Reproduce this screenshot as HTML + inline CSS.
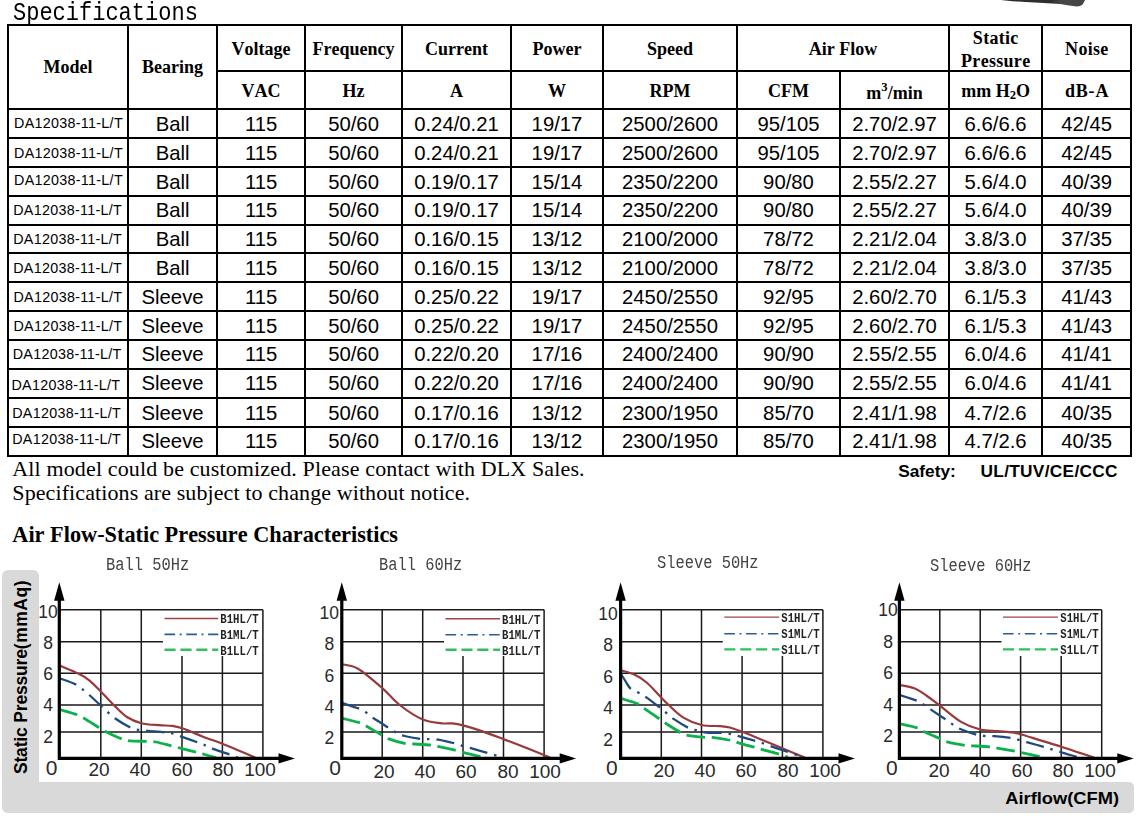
<!DOCTYPE html>
<html><head><meta charset="utf-8"><title>Specifications</title>
<style>
html,body{margin:0;padding:0;background:#fff}
body{width:1140px;height:819px;position:relative;overflow:hidden}
.t{position:absolute;white-space:nowrap;line-height:0;color:#000}
.a{font-family:"Liberation Sans",sans-serif}
.s{font-family:"Liberation Serif",serif}
.m{font-family:"Liberation Mono",monospace}
.b{font-weight:bold}
.s.b{font-kerning:none}
.l{position:absolute}
sup,sub{font-size:70%;line-height:0}
sup{vertical-align:baseline;position:relative;top:-0.68em}
sub{vertical-align:baseline;position:relative;top:0.16em}
svg{position:absolute;left:0;top:0}
</style></head><body>
<div class="t m" style="left:13.00px;top:13.58px;font-size:22px;transform-origin:0 50%;transform:scale(1.0,1.18);">Specifications</div>
<div class="l" style="left:6.97px;top:23.98px;width:1125.25px;height:2.05px;background:#000"></div>
<div class="l" style="left:6.97px;top:454.68px;width:1125.25px;height:2.05px;background:#000"></div>
<div class="l" style="left:8.00px;top:107.92px;width:1123.20px;height:2.05px;background:#000"></div>
<div class="l" style="left:217.00px;top:70.02px;width:914.20px;height:2.05px;background:#000"></div>
<div class="l" style="left:8.00px;top:136.82px;width:1123.20px;height:2.05px;background:#000"></div>
<div class="l" style="left:8.00px;top:165.72px;width:1123.20px;height:2.05px;background:#000"></div>
<div class="l" style="left:8.00px;top:194.61px;width:1123.20px;height:2.05px;background:#000"></div>
<div class="l" style="left:8.00px;top:223.51px;width:1123.20px;height:2.05px;background:#000"></div>
<div class="l" style="left:8.00px;top:252.40px;width:1123.20px;height:2.05px;background:#000"></div>
<div class="l" style="left:8.00px;top:281.30px;width:1123.20px;height:2.05px;background:#000"></div>
<div class="l" style="left:8.00px;top:310.20px;width:1123.20px;height:2.05px;background:#000"></div>
<div class="l" style="left:8.00px;top:339.09px;width:1123.20px;height:2.05px;background:#000"></div>
<div class="l" style="left:8.00px;top:367.99px;width:1123.20px;height:2.05px;background:#000"></div>
<div class="l" style="left:8.00px;top:396.88px;width:1123.20px;height:2.05px;background:#000"></div>
<div class="l" style="left:8.00px;top:425.78px;width:1123.20px;height:2.05px;background:#000"></div>
<div class="l" style="left:6.97px;top:25.00px;width:2.05px;height:430.70px;background:#000"></div>
<div class="l" style="left:127.07px;top:25.00px;width:2.05px;height:430.70px;background:#000"></div>
<div class="l" style="left:215.97px;top:25.00px;width:2.05px;height:430.70px;background:#000"></div>
<div class="l" style="left:304.08px;top:25.00px;width:2.05px;height:430.70px;background:#000"></div>
<div class="l" style="left:400.98px;top:25.00px;width:2.05px;height:430.70px;background:#000"></div>
<div class="l" style="left:509.98px;top:25.00px;width:2.05px;height:430.70px;background:#000"></div>
<div class="l" style="left:601.98px;top:25.00px;width:2.05px;height:430.70px;background:#000"></div>
<div class="l" style="left:735.98px;top:25.00px;width:2.05px;height:430.70px;background:#000"></div>
<div class="l" style="left:838.98px;top:71.05px;width:2.05px;height:384.65px;background:#000"></div>
<div class="l" style="left:947.98px;top:25.00px;width:2.05px;height:430.70px;background:#000"></div>
<div class="l" style="left:1041.17px;top:25.00px;width:2.05px;height:430.70px;background:#000"></div>
<div class="l" style="left:1130.17px;top:25.00px;width:2.05px;height:430.70px;background:#000"></div>
<div class="t s b" style="left:68.05px;top:67.22px;font-size:18px;transform:translateX(-50%);">Model</div>
<div class="t s b" style="left:172.55px;top:67.22px;font-size:18px;transform:translateX(-50%);">Bearing</div>
<div class="t s b" style="left:261.05px;top:49.22px;font-size:18px;transform:translateX(-50%);">Voltage</div>
<div class="t s b" style="left:261.05px;top:91.22px;font-size:18px;transform:translateX(-50%);">VAC</div>
<div class="t s b" style="left:353.55px;top:49.22px;font-size:18px;transform:translateX(-50%);">Frequency</div>
<div class="t s b" style="left:353.55px;top:91.22px;font-size:18px;transform:translateX(-50%);">Hz</div>
<div class="t s b" style="left:456.50px;top:49.22px;font-size:18px;transform:translateX(-50%);">Current</div>
<div class="t s b" style="left:456.50px;top:91.22px;font-size:18px;transform:translateX(-50%);">A</div>
<div class="t s b" style="left:557.00px;top:49.22px;font-size:18px;transform:translateX(-50%);">Power</div>
<div class="t s b" style="left:557.00px;top:91.22px;font-size:18px;transform:translateX(-50%);">W</div>
<div class="t s b" style="left:670.00px;top:49.22px;font-size:18px;transform:translateX(-50%);">Speed</div>
<div class="t s b" style="left:670.00px;top:91.22px;font-size:18px;transform:translateX(-50%);">RPM</div>
<div class="t s b" style="left:843.00px;top:49.22px;font-size:18px;transform:translateX(-50%);">Air Flow</div>
<div class="t s b" style="left:788.50px;top:91.22px;font-size:18px;transform:translateX(-50%);">CFM</div>
<div class="t s b" style="left:894.50px;top:93.22px;font-size:18px;transform:translateX(-50%);">m<sup>3</sup>/min</div>
<div class="t s b" style="left:995.60px;top:38.22px;font-size:18px;letter-spacing:0.3px;margin-left:0.15px;transform:translateX(-50%);">Static</div>
<div class="t s b" style="left:995.60px;top:61.22px;font-size:18px;letter-spacing:0.3px;margin-left:0.15px;transform:translateX(-50%);">Pressure</div>
<div class="t s b" style="left:995.60px;top:91.22px;font-size:18px;transform:translateX(-50%);">mm H<sub>2</sub>O</div>
<div class="t s b" style="left:1086.70px;top:49.22px;font-size:18px;letter-spacing:0.3px;margin-left:0.15px;transform:translateX(-50%);">Noise</div>
<div class="t s b" style="left:1086.70px;top:91.22px;font-size:18px;letter-spacing:0.8px;margin-left:0.40px;transform:translateX(-50%);">dB-A</div>
<div class="t a" style="left:14.10px;top:123.35px;font-size:14.3px;letter-spacing:0.3px;">DA12038-11-L/T</div>
<div class="t a" style="left:172.55px;top:124.27px;font-size:20.3px;transform:translateX(-50%);">Ball</div>
<div class="t a" style="left:261.05px;top:124.27px;font-size:20.3px;transform:translateX(-50%);">115</div>
<div class="t a" style="left:353.55px;top:124.27px;font-size:20.3px;transform:translateX(-50%);">50/60</div>
<div class="t a" style="left:456.50px;top:124.27px;font-size:20.3px;transform:translateX(-50%);">0.24/0.21</div>
<div class="t a" style="left:557.00px;top:124.27px;font-size:20.3px;transform:translateX(-50%);">19/17</div>
<div class="t a" style="left:670.00px;top:124.27px;font-size:20.3px;transform:translateX(-50%);">2500/2600</div>
<div class="t a" style="left:788.50px;top:124.27px;font-size:20.3px;transform:translateX(-50%);">95/105</div>
<div class="t a" style="left:894.50px;top:124.27px;font-size:20.3px;transform:translateX(-50%);">2.70/2.97</div>
<div class="t a" style="left:995.60px;top:124.27px;font-size:20.3px;transform:translateX(-50%);">6.6/6.6</div>
<div class="t a" style="left:1086.70px;top:124.27px;font-size:20.3px;transform:translateX(-50%);">42/45</div>
<div class="t a" style="left:14.10px;top:153.35px;font-size:14.3px;letter-spacing:0.3px;">DA12038-11-L/T</div>
<div class="t a" style="left:172.55px;top:153.27px;font-size:20.3px;transform:translateX(-50%);">Ball</div>
<div class="t a" style="left:261.05px;top:153.27px;font-size:20.3px;transform:translateX(-50%);">115</div>
<div class="t a" style="left:353.55px;top:153.27px;font-size:20.3px;transform:translateX(-50%);">50/60</div>
<div class="t a" style="left:456.50px;top:153.27px;font-size:20.3px;transform:translateX(-50%);">0.24/0.21</div>
<div class="t a" style="left:557.00px;top:153.27px;font-size:20.3px;transform:translateX(-50%);">19/17</div>
<div class="t a" style="left:670.00px;top:153.27px;font-size:20.3px;transform:translateX(-50%);">2500/2600</div>
<div class="t a" style="left:788.50px;top:153.27px;font-size:20.3px;transform:translateX(-50%);">95/105</div>
<div class="t a" style="left:894.50px;top:153.27px;font-size:20.3px;transform:translateX(-50%);">2.70/2.97</div>
<div class="t a" style="left:995.60px;top:153.27px;font-size:20.3px;transform:translateX(-50%);">6.6/6.6</div>
<div class="t a" style="left:1086.70px;top:153.27px;font-size:20.3px;transform:translateX(-50%);">42/45</div>
<div class="t a" style="left:14.10px;top:180.35px;font-size:14.3px;letter-spacing:0.3px;">DA12038-11-L/T</div>
<div class="t a" style="left:172.55px;top:182.27px;font-size:20.3px;transform:translateX(-50%);">Ball</div>
<div class="t a" style="left:261.05px;top:182.27px;font-size:20.3px;transform:translateX(-50%);">115</div>
<div class="t a" style="left:353.55px;top:182.27px;font-size:20.3px;transform:translateX(-50%);">50/60</div>
<div class="t a" style="left:456.50px;top:182.27px;font-size:20.3px;transform:translateX(-50%);">0.19/0.17</div>
<div class="t a" style="left:557.00px;top:182.27px;font-size:20.3px;transform:translateX(-50%);">15/14</div>
<div class="t a" style="left:670.00px;top:182.27px;font-size:20.3px;transform:translateX(-50%);">2350/2200</div>
<div class="t a" style="left:788.50px;top:182.27px;font-size:20.3px;transform:translateX(-50%);">90/80</div>
<div class="t a" style="left:894.50px;top:182.27px;font-size:20.3px;transform:translateX(-50%);">2.55/2.27</div>
<div class="t a" style="left:995.60px;top:182.27px;font-size:20.3px;transform:translateX(-50%);">5.6/4.0</div>
<div class="t a" style="left:1086.70px;top:182.27px;font-size:20.3px;transform:translateX(-50%);">40/39</div>
<div class="t a" style="left:13.20px;top:210.35px;font-size:14.3px;letter-spacing:0.3px;">DA12038-11-L/T</div>
<div class="t a" style="left:172.55px;top:210.27px;font-size:20.3px;transform:translateX(-50%);">Ball</div>
<div class="t a" style="left:261.05px;top:210.27px;font-size:20.3px;transform:translateX(-50%);">115</div>
<div class="t a" style="left:353.55px;top:210.27px;font-size:20.3px;transform:translateX(-50%);">50/60</div>
<div class="t a" style="left:456.50px;top:210.27px;font-size:20.3px;transform:translateX(-50%);">0.19/0.17</div>
<div class="t a" style="left:557.00px;top:210.27px;font-size:20.3px;transform:translateX(-50%);">15/14</div>
<div class="t a" style="left:670.00px;top:210.27px;font-size:20.3px;transform:translateX(-50%);">2350/2200</div>
<div class="t a" style="left:788.50px;top:210.27px;font-size:20.3px;transform:translateX(-50%);">90/80</div>
<div class="t a" style="left:894.50px;top:210.27px;font-size:20.3px;transform:translateX(-50%);">2.55/2.27</div>
<div class="t a" style="left:995.60px;top:210.27px;font-size:20.3px;transform:translateX(-50%);">5.6/4.0</div>
<div class="t a" style="left:1086.70px;top:210.27px;font-size:20.3px;transform:translateX(-50%);">40/39</div>
<div class="t a" style="left:13.20px;top:239.35px;font-size:14.3px;letter-spacing:0.3px;">DA12038-11-L/T</div>
<div class="t a" style="left:172.55px;top:239.27px;font-size:20.3px;transform:translateX(-50%);">Ball</div>
<div class="t a" style="left:261.05px;top:239.27px;font-size:20.3px;transform:translateX(-50%);">115</div>
<div class="t a" style="left:353.55px;top:239.27px;font-size:20.3px;transform:translateX(-50%);">50/60</div>
<div class="t a" style="left:456.50px;top:239.27px;font-size:20.3px;transform:translateX(-50%);">0.16/0.15</div>
<div class="t a" style="left:557.00px;top:239.27px;font-size:20.3px;transform:translateX(-50%);">13/12</div>
<div class="t a" style="left:670.00px;top:239.27px;font-size:20.3px;transform:translateX(-50%);">2100/2000</div>
<div class="t a" style="left:788.50px;top:239.27px;font-size:20.3px;transform:translateX(-50%);">78/72</div>
<div class="t a" style="left:894.50px;top:239.27px;font-size:20.3px;transform:translateX(-50%);">2.21/2.04</div>
<div class="t a" style="left:995.60px;top:239.27px;font-size:20.3px;transform:translateX(-50%);">3.8/3.0</div>
<div class="t a" style="left:1086.70px;top:239.27px;font-size:20.3px;transform:translateX(-50%);">37/35</div>
<div class="t a" style="left:13.20px;top:268.35px;font-size:14.3px;letter-spacing:0.3px;">DA12038-11-L/T</div>
<div class="t a" style="left:172.55px;top:268.27px;font-size:20.3px;transform:translateX(-50%);">Ball</div>
<div class="t a" style="left:261.05px;top:268.27px;font-size:20.3px;transform:translateX(-50%);">115</div>
<div class="t a" style="left:353.55px;top:268.27px;font-size:20.3px;transform:translateX(-50%);">50/60</div>
<div class="t a" style="left:456.50px;top:268.27px;font-size:20.3px;transform:translateX(-50%);">0.16/0.15</div>
<div class="t a" style="left:557.00px;top:268.27px;font-size:20.3px;transform:translateX(-50%);">13/12</div>
<div class="t a" style="left:670.00px;top:268.27px;font-size:20.3px;transform:translateX(-50%);">2100/2000</div>
<div class="t a" style="left:788.50px;top:268.27px;font-size:20.3px;transform:translateX(-50%);">78/72</div>
<div class="t a" style="left:894.50px;top:268.27px;font-size:20.3px;transform:translateX(-50%);">2.21/2.04</div>
<div class="t a" style="left:995.60px;top:268.27px;font-size:20.3px;transform:translateX(-50%);">3.8/3.0</div>
<div class="t a" style="left:1086.70px;top:268.27px;font-size:20.3px;transform:translateX(-50%);">37/35</div>
<div class="t a" style="left:13.45px;top:297.35px;font-size:14.3px;letter-spacing:0.3px;">DA12038-11-L/T</div>
<div class="t a" style="left:172.55px;top:297.27px;font-size:20.3px;transform:translateX(-50%);">Sleeve</div>
<div class="t a" style="left:261.05px;top:297.27px;font-size:20.3px;transform:translateX(-50%);">115</div>
<div class="t a" style="left:353.55px;top:297.27px;font-size:20.3px;transform:translateX(-50%);">50/60</div>
<div class="t a" style="left:456.50px;top:297.27px;font-size:20.3px;transform:translateX(-50%);">0.25/0.22</div>
<div class="t a" style="left:557.00px;top:297.27px;font-size:20.3px;transform:translateX(-50%);">19/17</div>
<div class="t a" style="left:670.00px;top:297.27px;font-size:20.3px;transform:translateX(-50%);">2450/2550</div>
<div class="t a" style="left:788.50px;top:297.27px;font-size:20.3px;transform:translateX(-50%);">92/95</div>
<div class="t a" style="left:894.50px;top:297.27px;font-size:20.3px;transform:translateX(-50%);">2.60/2.70</div>
<div class="t a" style="left:995.60px;top:297.27px;font-size:20.3px;transform:translateX(-50%);">6.1/5.3</div>
<div class="t a" style="left:1086.70px;top:297.27px;font-size:20.3px;transform:translateX(-50%);">41/43</div>
<div class="t a" style="left:13.45px;top:326.35px;font-size:14.3px;letter-spacing:0.3px;">DA12038-11-L/T</div>
<div class="t a" style="left:172.55px;top:326.27px;font-size:20.3px;transform:translateX(-50%);">Sleeve</div>
<div class="t a" style="left:261.05px;top:326.27px;font-size:20.3px;transform:translateX(-50%);">115</div>
<div class="t a" style="left:353.55px;top:326.27px;font-size:20.3px;transform:translateX(-50%);">50/60</div>
<div class="t a" style="left:456.50px;top:326.27px;font-size:20.3px;transform:translateX(-50%);">0.25/0.22</div>
<div class="t a" style="left:557.00px;top:326.27px;font-size:20.3px;transform:translateX(-50%);">19/17</div>
<div class="t a" style="left:670.00px;top:326.27px;font-size:20.3px;transform:translateX(-50%);">2450/2550</div>
<div class="t a" style="left:788.50px;top:326.27px;font-size:20.3px;transform:translateX(-50%);">92/95</div>
<div class="t a" style="left:894.50px;top:326.27px;font-size:20.3px;transform:translateX(-50%);">2.60/2.70</div>
<div class="t a" style="left:995.60px;top:326.27px;font-size:20.3px;transform:translateX(-50%);">6.1/5.3</div>
<div class="t a" style="left:1086.70px;top:326.27px;font-size:20.3px;transform:translateX(-50%);">41/43</div>
<div class="t a" style="left:12.70px;top:354.35px;font-size:14.3px;letter-spacing:0.3px;">DA12038-11-L/T</div>
<div class="t a" style="left:172.55px;top:354.27px;font-size:20.3px;transform:translateX(-50%);">Sleeve</div>
<div class="t a" style="left:261.05px;top:354.27px;font-size:20.3px;transform:translateX(-50%);">115</div>
<div class="t a" style="left:353.55px;top:354.27px;font-size:20.3px;transform:translateX(-50%);">50/60</div>
<div class="t a" style="left:456.50px;top:354.27px;font-size:20.3px;transform:translateX(-50%);">0.22/0.20</div>
<div class="t a" style="left:557.00px;top:354.27px;font-size:20.3px;transform:translateX(-50%);">17/16</div>
<div class="t a" style="left:670.00px;top:354.27px;font-size:20.3px;transform:translateX(-50%);">2400/2400</div>
<div class="t a" style="left:788.50px;top:354.27px;font-size:20.3px;transform:translateX(-50%);">90/90</div>
<div class="t a" style="left:894.50px;top:354.27px;font-size:20.3px;transform:translateX(-50%);">2.55/2.55</div>
<div class="t a" style="left:995.60px;top:354.27px;font-size:20.3px;transform:translateX(-50%);">6.0/4.6</div>
<div class="t a" style="left:1086.70px;top:354.27px;font-size:20.3px;transform:translateX(-50%);">41/41</div>
<div class="t a" style="left:11.45px;top:385.35px;font-size:14.3px;letter-spacing:0.3px;">DA12038-11-L/T</div>
<div class="t a" style="left:172.55px;top:383.27px;font-size:20.3px;transform:translateX(-50%);">Sleeve</div>
<div class="t a" style="left:261.05px;top:383.27px;font-size:20.3px;transform:translateX(-50%);">115</div>
<div class="t a" style="left:353.55px;top:383.27px;font-size:20.3px;transform:translateX(-50%);">50/60</div>
<div class="t a" style="left:456.50px;top:383.27px;font-size:20.3px;transform:translateX(-50%);">0.22/0.20</div>
<div class="t a" style="left:557.00px;top:383.27px;font-size:20.3px;transform:translateX(-50%);">17/16</div>
<div class="t a" style="left:670.00px;top:383.27px;font-size:20.3px;transform:translateX(-50%);">2400/2400</div>
<div class="t a" style="left:788.50px;top:383.27px;font-size:20.3px;transform:translateX(-50%);">90/90</div>
<div class="t a" style="left:894.50px;top:383.27px;font-size:20.3px;transform:translateX(-50%);">2.55/2.55</div>
<div class="t a" style="left:995.60px;top:383.27px;font-size:20.3px;transform:translateX(-50%);">6.0/4.6</div>
<div class="t a" style="left:1086.70px;top:383.27px;font-size:20.3px;transform:translateX(-50%);">41/41</div>
<div class="t a" style="left:12.20px;top:413.35px;font-size:14.3px;letter-spacing:0.3px;">DA12038-11-L/T</div>
<div class="t a" style="left:172.55px;top:413.27px;font-size:20.3px;transform:translateX(-50%);">Sleeve</div>
<div class="t a" style="left:261.05px;top:413.27px;font-size:20.3px;transform:translateX(-50%);">115</div>
<div class="t a" style="left:353.55px;top:413.27px;font-size:20.3px;transform:translateX(-50%);">50/60</div>
<div class="t a" style="left:456.50px;top:413.27px;font-size:20.3px;transform:translateX(-50%);">0.17/0.16</div>
<div class="t a" style="left:557.00px;top:413.27px;font-size:20.3px;transform:translateX(-50%);">13/12</div>
<div class="t a" style="left:670.00px;top:413.27px;font-size:20.3px;transform:translateX(-50%);">2300/1950</div>
<div class="t a" style="left:788.50px;top:413.27px;font-size:20.3px;transform:translateX(-50%);">85/70</div>
<div class="t a" style="left:894.50px;top:413.27px;font-size:20.3px;transform:translateX(-50%);">2.41/1.98</div>
<div class="t a" style="left:995.60px;top:413.27px;font-size:20.3px;transform:translateX(-50%);">4.7/2.6</div>
<div class="t a" style="left:1086.70px;top:413.27px;font-size:20.3px;transform:translateX(-50%);">40/35</div>
<div class="t a" style="left:12.20px;top:439.35px;font-size:14.3px;letter-spacing:0.3px;">DA12038-11-L/T</div>
<div class="t a" style="left:172.55px;top:441.27px;font-size:20.3px;transform:translateX(-50%);">Sleeve</div>
<div class="t a" style="left:261.05px;top:441.27px;font-size:20.3px;transform:translateX(-50%);">115</div>
<div class="t a" style="left:353.55px;top:441.27px;font-size:20.3px;transform:translateX(-50%);">50/60</div>
<div class="t a" style="left:456.50px;top:441.27px;font-size:20.3px;transform:translateX(-50%);">0.17/0.16</div>
<div class="t a" style="left:557.00px;top:441.27px;font-size:20.3px;transform:translateX(-50%);">13/12</div>
<div class="t a" style="left:670.00px;top:441.27px;font-size:20.3px;transform:translateX(-50%);">2300/1950</div>
<div class="t a" style="left:788.50px;top:441.27px;font-size:20.3px;transform:translateX(-50%);">85/70</div>
<div class="t a" style="left:894.50px;top:441.27px;font-size:20.3px;transform:translateX(-50%);">2.41/1.98</div>
<div class="t a" style="left:995.60px;top:441.27px;font-size:20.3px;transform:translateX(-50%);">4.7/2.6</div>
<div class="t a" style="left:1086.70px;top:441.27px;font-size:20.3px;transform:translateX(-50%);">40/35</div>
<div class="t s" style="left:12.30px;top:468.88px;font-size:22px;letter-spacing:0.14px;">All model could be customized. Please contact with DLX Sales.</div>
<div class="t s" style="left:12.30px;top:492.88px;font-size:22px;letter-spacing:0.1px;">Specifications are subject to change without notice.</div>
<div class="t a b" style="left:898.20px;top:471.31px;font-size:17.3px;">Safety:</div>
<div class="t a b" style="left:980.50px;top:471.31px;font-size:17.3px;letter-spacing:0.3px;">UL/TUV/CE/CCC</div>
<div class="t s b" style="left:12.30px;top:534.77px;font-size:22.3px;">Air Flow-Static Pressure Characteristics</div>
<div class="l" style="left:2px;top:570px;width:37px;height:243px;background:#d9d9d9;border-radius:6px 6px 0 6px"></div>
<div class="l" style="left:2px;top:782px;width:1132px;height:31px;background:#d9d9d9;border-radius:0 5px 5px 6px"></div>
<div class="t a b" style="left:20.8px;top:677px;font-size:18px;transform:translate(-50%,-50%) rotate(-90deg) scale(0.975,1);white-space:nowrap;line-height:1"><span style="letter-spacing:-0.2px">Static Pressure</span><span style="letter-spacing:0.5px">(mmAq)</span></div>
<div class="t a b" style="left:1119.30px;top:799.41px;font-size:17px;transform-origin:100% 50%;transform:translateX(-100%) scale(1.075,1);">Airflow(CFM)</div>
<div class="t m" style="left:106.00px;top:564.68px;font-size:15.4px;color:#444;transform-origin:0 50%;transform:scale(1,1.2);">Ball 50Hz</div>
<div class="t m" style="left:379.00px;top:564.68px;font-size:15.4px;color:#444;transform-origin:0 50%;transform:scale(1,1.2);">Ball 60Hz</div>
<div class="t m" style="left:657.00px;top:562.88px;font-size:15.4px;color:#444;transform-origin:0 50%;transform:scale(1,1.2);">Sleeve 50Hz</div>
<div class="t m" style="left:930.00px;top:566.38px;font-size:15.4px;color:#444;transform-origin:0 50%;transform:scale(1,1.2);">Sleeve 60Hz</div>
<div class="t m b" style="left:220.30px;top:619.37px;font-size:10.67px;color:#222;transform-origin:0 50%;transform:scale(1,1.24);">B1HL/T</div>
<div class="t m b" style="left:220.30px;top:634.77px;font-size:10.67px;color:#222;transform-origin:0 50%;transform:scale(1,1.24);">B1ML/T</div>
<div class="t m b" style="left:220.30px;top:650.67px;font-size:10.67px;color:#222;transform-origin:0 50%;transform:scale(1,1.24);">B1LL/T</div>
<div class="t a" style="left:48.00px;top:612.24px;font-size:17.5px;color:#2a2a2a;transform:translateX(-50%);">10</div>
<div class="t a" style="left:48.00px;top:643.24px;font-size:17.5px;color:#2a2a2a;transform:translateX(-50%);">8</div>
<div class="t a" style="left:48.00px;top:674.24px;font-size:17.5px;color:#2a2a2a;transform:translateX(-50%);">6</div>
<div class="t a" style="left:48.00px;top:705.24px;font-size:17.5px;color:#2a2a2a;transform:translateX(-50%);">4</div>
<div class="t a" style="left:48.00px;top:737.24px;font-size:17.5px;color:#2a2a2a;transform:translateX(-50%);">2</div>
<div class="t a" style="left:51.65px;top:768.02px;font-size:21px;color:#2a2a2a;transform:translateX(-50%);">0</div>
<div class="t a" style="left:99.10px;top:769.96px;font-size:18.3px;color:#2a2a2a;transform-origin:50% 50%;transform:translateX(-50%) scale(1.04,1);">20</div>
<div class="t a" style="left:140.00px;top:769.96px;font-size:18.3px;color:#2a2a2a;transform-origin:50% 50%;transform:translateX(-50%) scale(1.04,1);">40</div>
<div class="t a" style="left:181.50px;top:769.96px;font-size:18.3px;color:#2a2a2a;transform-origin:50% 50%;transform:translateX(-50%) scale(1.04,1);">60</div>
<div class="t a" style="left:222.90px;top:769.96px;font-size:18.3px;color:#2a2a2a;transform-origin:50% 50%;transform:translateX(-50%) scale(1.04,1);">80</div>
<div class="t a" style="left:260.10px;top:769.96px;font-size:18.3px;color:#2a2a2a;transform-origin:50% 50%;transform:translateX(-50%) scale(1.04,1);">100</div>
<div class="t m b" style="left:502.00px;top:619.57px;font-size:10.67px;color:#222;transform-origin:0 50%;transform:scale(1,1.24);">B1HL/T</div>
<div class="t m b" style="left:502.00px;top:635.07px;font-size:10.67px;color:#222;transform-origin:0 50%;transform:scale(1,1.24);">B1ML/T</div>
<div class="t m b" style="left:502.00px;top:650.67px;font-size:10.67px;color:#222;transform-origin:0 50%;transform:scale(1,1.24);">B1LL/T</div>
<div class="t a" style="left:329.30px;top:613.24px;font-size:17.5px;color:#2a2a2a;transform:translateX(-50%);">10</div>
<div class="t a" style="left:329.30px;top:644.24px;font-size:17.5px;color:#2a2a2a;transform:translateX(-50%);">8</div>
<div class="t a" style="left:329.30px;top:676.24px;font-size:17.5px;color:#2a2a2a;transform:translateX(-50%);">6</div>
<div class="t a" style="left:329.30px;top:707.24px;font-size:17.5px;color:#2a2a2a;transform:translateX(-50%);">4</div>
<div class="t a" style="left:329.30px;top:738.24px;font-size:17.5px;color:#2a2a2a;transform:translateX(-50%);">2</div>
<div class="t a" style="left:335.10px;top:768.02px;font-size:21px;color:#2a2a2a;transform:translateX(-50%);">0</div>
<div class="t a" style="left:383.50px;top:771.96px;font-size:18.3px;color:#2a2a2a;transform-origin:50% 50%;transform:translateX(-50%) scale(1.04,1);">20</div>
<div class="t a" style="left:424.70px;top:771.96px;font-size:18.3px;color:#2a2a2a;transform-origin:50% 50%;transform:translateX(-50%) scale(1.04,1);">40</div>
<div class="t a" style="left:466.40px;top:771.96px;font-size:18.3px;color:#2a2a2a;transform-origin:50% 50%;transform:translateX(-50%) scale(1.04,1);">60</div>
<div class="t a" style="left:507.50px;top:771.96px;font-size:18.3px;color:#2a2a2a;transform-origin:50% 50%;transform:translateX(-50%) scale(1.04,1);">80</div>
<div class="t a" style="left:544.60px;top:771.96px;font-size:18.3px;color:#2a2a2a;transform-origin:50% 50%;transform:translateX(-50%) scale(1.04,1);">100</div>
<div class="t m b" style="left:781.30px;top:617.97px;font-size:10.67px;color:#222;transform-origin:0 50%;transform:scale(1,1.24);">S1HL/T</div>
<div class="t m b" style="left:781.30px;top:634.07px;font-size:10.67px;color:#222;transform-origin:0 50%;transform:scale(1,1.24);">S1ML/T</div>
<div class="t m b" style="left:781.30px;top:650.37px;font-size:10.67px;color:#222;transform-origin:0 50%;transform:scale(1,1.24);">S1LL/T</div>
<div class="t a" style="left:608.00px;top:614.24px;font-size:17.5px;color:#2a2a2a;transform:translateX(-50%);">10</div>
<div class="t a" style="left:608.00px;top:645.24px;font-size:17.5px;color:#2a2a2a;transform:translateX(-50%);">8</div>
<div class="t a" style="left:608.00px;top:677.24px;font-size:17.5px;color:#2a2a2a;transform:translateX(-50%);">6</div>
<div class="t a" style="left:608.00px;top:708.24px;font-size:17.5px;color:#2a2a2a;transform:translateX(-50%);">4</div>
<div class="t a" style="left:608.00px;top:740.24px;font-size:17.5px;color:#2a2a2a;transform:translateX(-50%);">2</div>
<div class="t a" style="left:611.90px;top:768.02px;font-size:21px;color:#2a2a2a;transform:translateX(-50%);">0</div>
<div class="t a" style="left:663.50px;top:770.96px;font-size:18.3px;color:#2a2a2a;transform-origin:50% 50%;transform:translateX(-50%) scale(1.04,1);">20</div>
<div class="t a" style="left:704.60px;top:770.96px;font-size:18.3px;color:#2a2a2a;transform-origin:50% 50%;transform:translateX(-50%) scale(1.04,1);">40</div>
<div class="t a" style="left:746.40px;top:770.96px;font-size:18.3px;color:#2a2a2a;transform-origin:50% 50%;transform:translateX(-50%) scale(1.04,1);">60</div>
<div class="t a" style="left:787.50px;top:770.96px;font-size:18.3px;color:#2a2a2a;transform-origin:50% 50%;transform:translateX(-50%) scale(1.04,1);">80</div>
<div class="t a" style="left:824.60px;top:770.96px;font-size:18.3px;color:#2a2a2a;transform-origin:50% 50%;transform:translateX(-50%) scale(1.04,1);">100</div>
<div class="t m b" style="left:1060.30px;top:617.97px;font-size:10.67px;color:#222;transform-origin:0 50%;transform:scale(1,1.24);">S1HL/T</div>
<div class="t m b" style="left:1060.30px;top:634.07px;font-size:10.67px;color:#222;transform-origin:0 50%;transform:scale(1,1.24);">S1ML/T</div>
<div class="t m b" style="left:1060.30px;top:650.37px;font-size:10.67px;color:#222;transform-origin:0 50%;transform:scale(1,1.24);">S1LL/T</div>
<div class="t a" style="left:888.00px;top:610.24px;font-size:17.5px;color:#2a2a2a;transform:translateX(-50%);">10</div>
<div class="t a" style="left:888.00px;top:642.24px;font-size:17.5px;color:#2a2a2a;transform:translateX(-50%);">8</div>
<div class="t a" style="left:888.00px;top:673.24px;font-size:17.5px;color:#2a2a2a;transform:translateX(-50%);">6</div>
<div class="t a" style="left:888.00px;top:705.24px;font-size:17.5px;color:#2a2a2a;transform:translateX(-50%);">4</div>
<div class="t a" style="left:888.00px;top:736.24px;font-size:17.5px;color:#2a2a2a;transform:translateX(-50%);">2</div>
<div class="t a" style="left:891.90px;top:768.02px;font-size:21px;color:#2a2a2a;transform:translateX(-50%);">0</div>
<div class="t a" style="left:939.20px;top:770.96px;font-size:18.3px;color:#2a2a2a;transform-origin:50% 50%;transform:translateX(-50%) scale(1.04,1);">20</div>
<div class="t a" style="left:980.40px;top:770.96px;font-size:18.3px;color:#2a2a2a;transform-origin:50% 50%;transform:translateX(-50%) scale(1.04,1);">40</div>
<div class="t a" style="left:1021.50px;top:770.96px;font-size:18.3px;color:#2a2a2a;transform-origin:50% 50%;transform:translateX(-50%) scale(1.04,1);">60</div>
<div class="t a" style="left:1062.80px;top:770.96px;font-size:18.3px;color:#2a2a2a;transform-origin:50% 50%;transform:translateX(-50%) scale(1.04,1);">80</div>
<div class="t a" style="left:1099.90px;top:770.96px;font-size:18.3px;color:#2a2a2a;transform-origin:50% 50%;transform:translateX(-50%) scale(1.04,1);">100</div>
<svg width="1140" height="819" viewBox="0 0 1140 819">
<path d="M59.3,609.8H262.9M59.3,641.7H163.0M59.3,673.3H262.9M59.3,705.0H262.9M59.3,732.0H262.9M100.8,609.8V758.4M141.3,609.8V758.4M182.0,656V758.4M222.4,656V758.4M262.9,609.8V758.4" stroke="#1a1a1a" stroke-width="1.5" fill="none"/>
<path d="M59.5,665.5C62.6,666.9 73.4,671.2 78.2,673.6C83.0,676.0 84.8,676.9 88.6,679.9C92.4,682.9 96.5,687.2 100.8,691.5C105.0,695.8 109.8,701.1 114.1,705.4C118.4,709.6 122.4,714.0 126.9,717.0C131.5,720.0 136.0,721.8 141.4,723.2C146.8,724.6 154.2,724.8 159.3,725.2C164.5,725.7 168.1,725.3 172.3,725.9C176.5,726.5 179.5,727.2 184.6,729.0C189.7,730.8 196.7,734.2 203.0,736.7C209.3,739.2 216.3,741.3 222.4,743.7C228.5,746.1 234.3,748.7 239.8,751.0C245.3,753.3 252.6,756.4 255.2,757.5" stroke="#983a3c" stroke-width="2.2" fill="none"/>
<path d="M59.5,678.2C62.2,679.3 71.0,681.8 75.9,684.6C80.9,687.4 84.8,691.2 89.2,695.0C93.6,698.8 98.2,703.3 102.5,707.2C106.8,711.1 110.5,715.0 115.3,718.5C120.1,722.0 127.3,726.1 131.5,728.0C135.7,729.9 137.5,729.6 140.2,730.1C142.9,730.6 143.6,730.5 147.8,730.9C152.0,731.3 161.2,731.9 165.5,732.4C169.8,732.9 171.1,733.0 173.9,733.8C176.7,734.5 177.9,735.4 182.1,736.9C186.3,738.4 195.2,741.5 199.3,743.0C203.5,744.5 204.3,745.0 207.0,746.1C209.7,747.2 211.2,748.1 215.3,749.6C219.4,751.1 227.7,753.7 231.6,755.1C235.5,756.5 237.4,757.7 238.6,758.2" stroke="#1f4a80" stroke-width="2.3" fill="none" stroke-dasharray="18 7 2.5 7"/>
<path d="M59.5,709.5C62.4,710.4 72.9,713.2 77.0,714.7C81.1,716.2 80.2,716.0 84.0,718.2C87.8,720.4 96.0,725.8 99.6,728.0C103.2,730.2 101.6,729.6 105.4,731.5C109.2,733.4 118.2,737.6 122.2,739.1C126.2,740.6 124.9,740.4 129.2,740.8C133.5,741.2 143.4,741.2 147.8,741.4C152.2,741.6 151.8,741.2 155.9,742.0C160.0,742.8 168.2,745.1 172.3,746.1C176.4,747.1 176.1,747.0 180.3,748.1C184.5,749.2 193.4,751.5 197.5,752.6C201.6,753.7 201.7,753.6 204.8,754.5C207.9,755.4 214.3,757.3 216.2,757.9" stroke="#0db14b" stroke-width="2.8" fill="none" stroke-dasharray="18.5 6.8"/>
<path d="M59.3,600V758.4H280.9" stroke="#000" stroke-width="3.2" fill="none" stroke-linejoin="miter"/>
<path d="M59.3,582.3L64.5,600.8H54.099999999999994Z" fill="#000"/>
<path d="M294.9,758.4L278.5,753.1999999999999V763.6Z" fill="#000"/>
<path d="M164.5,618.5H218.3" stroke="#a24446" stroke-width="1.4"/>
<path d="M164.5,634.4H218.3" stroke="#2f5a98" stroke-width="1.6" stroke-dasharray="10.6 4.6 2 4.6"/>
<path d="M164.5,649.7H218.3" stroke="#2fc062" stroke-width="2.4" stroke-dasharray="11.1 4.8"/>
<path d="M341.8,609.8H544.1M341.8,641.7H444.0M341.8,673.3H544.1M341.8,705.0H544.1M341.8,732.0H544.1M382.2,609.8V758.4M422.7,609.8V758.4M463,656V758.4M503.5,656V758.4M544.1,609.8V758.4" stroke="#1a1a1a" stroke-width="1.5" fill="none"/>
<path d="M342.0,664.2C344.7,665.0 351.3,664.7 358.0,668.7C364.7,672.7 375.4,682.1 382.3,688.1C389.2,694.1 393.0,699.8 399.7,705.0C406.4,710.2 415.7,716.5 422.7,719.5C429.7,722.5 436.9,722.6 441.8,723.3C446.7,723.9 448.8,723.0 452.3,723.4C455.8,723.8 458.1,724.1 463.0,725.4C467.9,726.7 475.1,728.8 481.8,731.1C488.6,733.4 496.1,736.3 503.5,739.1C510.9,741.9 518.3,744.6 526.0,747.7C533.7,750.8 545.9,755.9 549.9,757.5" stroke="#983a3c" stroke-width="2.2" fill="none"/>
<path d="M342.0,702.9C344.9,703.9 355.0,707.0 359.2,708.7C363.4,710.4 364.5,711.5 367.0,713.1C369.5,714.7 370.3,716.0 374.0,718.5C377.7,721.0 385.6,725.9 389.3,728.3C393.0,730.6 393.8,731.3 396.4,732.6C398.9,733.9 400.5,735.0 404.6,736.0C408.7,737.0 417.0,738.4 421.2,738.9C425.4,739.4 427.1,739.0 430.0,739.1C432.9,739.2 434.1,738.9 438.4,739.7C442.7,740.5 451.7,742.6 456.0,743.7C460.3,744.8 461.2,745.7 464.0,746.5C466.8,747.3 468.2,747.4 472.5,748.6C476.8,749.8 485.5,752.3 489.7,753.5C493.9,754.7 496.2,755.6 497.5,756.0" stroke="#1f4a80" stroke-width="2.3" fill="none" stroke-dasharray="18 7 2.5 7"/>
<path d="M342.0,718.2C345.0,719.0 355.7,721.6 359.8,722.9C363.9,724.2 362.9,724.1 366.6,726.2C370.4,728.3 378.6,733.3 382.3,735.4C386.0,737.5 384.8,737.5 388.7,738.9C392.6,740.3 401.6,742.9 405.9,743.7C410.1,744.6 409.9,743.7 414.2,744.0C418.5,744.3 427.6,744.8 431.7,745.3C435.8,745.8 434.9,745.8 439.0,746.7C443.1,747.6 452.4,749.5 456.6,750.5C460.8,751.5 459.8,751.5 464.0,752.6C468.2,753.7 478.8,756.2 481.8,756.9" stroke="#0db14b" stroke-width="2.8" fill="none" stroke-dasharray="18.5 6.8"/>
<path d="M341.8,600V758.4H562.1" stroke="#000" stroke-width="3.2" fill="none" stroke-linejoin="miter"/>
<path d="M341.8,582.3L347.0,600.8H336.6Z" fill="#000"/>
<path d="M576.1,758.4L559.7,753.1999999999999V763.6Z" fill="#000"/>
<path d="M445.5,618.7H500" stroke="#a24446" stroke-width="1.4"/>
<path d="M445.5,634.7H500" stroke="#2f5a98" stroke-width="1.6" stroke-dasharray="10.6 4.6 2 4.6"/>
<path d="M445.5,649.7H500" stroke="#2fc062" stroke-width="2.4" stroke-dasharray="11.1 4.8"/>
<path d="M620.6,609.8H822.9M620.6,641.7H722.8M620.6,673.3H822.9M620.6,705.0H822.9M620.6,732.0H822.9M661.3,609.8V758.4M701.5,609.8V758.4M742.1,656V758.4M782.4,656V758.4M822.9,609.8V758.4" stroke="#1a1a1a" stroke-width="1.5" fill="none"/>
<path d="M621.0,670.3C623.2,671.0 630.0,672.6 634.3,674.6C638.6,676.6 642.5,679.1 646.6,682.5C650.7,685.9 655.2,691.2 658.9,695.0C662.6,698.8 664.6,701.2 668.7,705.0C672.8,708.8 677.9,714.3 683.4,717.6C688.9,720.9 695.4,723.6 701.5,725.0C707.6,726.4 715.6,725.8 720.3,726.2C725.0,726.6 726.2,726.6 729.8,727.5C733.4,728.4 736.8,729.8 742.1,731.8C747.4,733.8 755.1,737.0 761.8,739.7C768.5,742.5 775.2,745.3 782.4,748.3C789.5,751.3 801.0,756.0 804.7,757.5" stroke="#983a3c" stroke-width="2.2" fill="none"/>
<path d="M621.0,674.0C621.8,675.3 624.4,679.5 626.0,682.0C627.6,684.5 628.5,686.9 630.6,688.7C632.7,690.5 636.0,691.4 638.6,692.8C641.2,694.2 642.3,694.5 646.0,697.1C649.7,699.7 657.2,705.5 660.7,708.2C664.2,710.9 664.6,711.5 666.8,713.3C668.9,715.1 669.9,716.4 673.6,718.9C677.3,721.4 685.0,726.2 688.9,728.1C692.8,730.0 694.4,729.5 697.3,730.3C700.2,731.0 701.8,732.1 706.1,732.6C710.4,733.1 719.0,732.7 723.3,733.0C727.6,733.3 729.0,733.6 731.7,734.2C734.4,734.8 735.4,735.2 739.6,736.4C743.8,737.6 752.5,740.0 756.8,741.3C761.1,742.6 762.4,743.0 765.2,744.0C768.0,745.0 769.3,745.7 773.4,747.1C777.5,748.5 785.8,751.2 790.0,752.6C794.2,754.0 797.2,755.2 798.6,755.7" stroke="#1f4a80" stroke-width="2.3" fill="none" stroke-dasharray="18 7 2.5 7"/>
<path d="M621.0,698.4C623.7,699.3 633.5,702.1 637.4,703.8C641.2,705.5 640.5,705.9 644.1,708.4C647.7,710.9 655.4,716.1 658.9,718.5C662.4,720.9 661.4,720.6 665.0,722.9C668.6,725.2 676.5,730.3 680.3,732.4C684.1,734.5 683.6,734.6 687.7,735.4C691.8,736.2 700.8,737.0 704.9,737.3C709.0,737.6 707.9,736.9 712.3,737.4C716.6,737.9 726.6,739.5 731.0,740.4C735.4,741.3 734.3,741.6 738.4,742.8C742.5,744.0 751.6,746.4 755.6,747.5C759.6,748.6 758.3,748.4 762.4,749.6C766.5,750.8 776.0,753.2 780.2,754.5C784.5,755.8 786.6,756.8 787.9,757.3" stroke="#0db14b" stroke-width="2.8" fill="none" stroke-dasharray="18.5 6.8"/>
<path d="M620.6,600V758.4H840.9" stroke="#000" stroke-width="3.2" fill="none" stroke-linejoin="miter"/>
<path d="M620.6,582.3L625.8000000000001,600.8H615.4Z" fill="#000"/>
<path d="M854.9,758.4L838.5,753.1999999999999V763.6Z" fill="#000"/>
<path d="M724.3,617.1H779.2" stroke="#a24446" stroke-width="1.4"/>
<path d="M724.3,633.7H779.2" stroke="#2f5a98" stroke-width="1.6" stroke-dasharray="10.6 4.6 2 4.6"/>
<path d="M724.3,649.4H779.2" stroke="#2fc062" stroke-width="2.4" stroke-dasharray="11.1 4.8"/>
<path d="M899.4,609.8H1101.7M899.4,641.7H1001.5M899.4,673.3H1101.7M899.4,705.0H1101.7M899.4,732.0H1101.7M939.8,609.8V758.4M980.2,609.8V758.4M1020.6,656V758.4M1061.2,656V758.4M1101.7,609.8V758.4" stroke="#1a1a1a" stroke-width="1.5" fill="none"/>
<path d="M899.5,685.0C902.0,685.5 909.7,686.5 914.3,688.3C918.9,690.1 922.8,693.1 927.0,696.0C931.2,698.9 933.8,701.1 939.5,705.4C945.2,709.7 954.2,717.9 961.0,721.9C967.8,725.9 974.1,728.0 980.2,729.5C986.3,731.0 992.4,730.6 997.8,731.1C1003.1,731.6 1008.5,731.9 1012.3,732.4C1016.1,732.9 1015.9,732.9 1020.6,734.2C1025.3,735.5 1033.7,738.3 1040.5,740.4C1047.3,742.5 1054.7,744.6 1061.2,746.7C1067.8,748.8 1074.3,751.1 1079.8,752.9C1085.3,754.7 1091.6,756.7 1094.0,757.5" stroke="#983a3c" stroke-width="2.2" fill="none"/>
<path d="M899.5,694.9C902.3,695.8 912.0,698.8 916.1,700.4C920.2,702.0 921.4,703.2 923.9,704.7C926.4,706.2 927.3,707.1 930.9,709.6C934.5,712.1 942.0,717.0 945.6,719.5C949.2,722.0 950.2,722.8 952.6,724.4C955.0,726.0 956.2,727.3 960.3,729.0C964.3,730.7 972.7,733.6 976.9,734.8C981.1,736.0 982.6,735.8 985.5,736.0C988.4,736.2 989.8,735.9 994.1,736.2C998.4,736.5 1007.3,737.3 1011.5,737.9C1015.7,738.5 1016.7,739.2 1019.4,740.0C1022.1,740.8 1023.4,741.2 1027.6,742.4C1031.8,743.6 1040.6,745.9 1044.8,747.1C1049.0,748.3 1050.2,748.9 1053.0,749.8C1055.8,750.7 1057.2,751.0 1061.4,752.3C1065.6,753.5 1075.2,756.5 1078.0,757.3" stroke="#1f4a80" stroke-width="2.3" fill="none" stroke-dasharray="18 7 2.5 7"/>
<path d="M899.5,723.8C902.6,724.5 913.9,726.8 918.0,728.1C922.1,729.4 920.2,730.0 924.1,731.8C928.0,733.6 937.3,737.4 941.3,739.1C945.3,740.8 944.0,741.1 948.1,742.2C952.2,743.3 961.7,744.9 965.9,745.5C970.1,746.1 969.0,745.7 973.2,745.9C977.4,746.1 986.9,746.5 991.1,746.9C995.3,747.3 994.2,747.5 998.4,748.3C1002.5,749.0 1011.8,750.6 1016.0,751.4C1020.2,752.2 1019.7,752.3 1023.9,753.2C1028.1,754.1 1038.2,756.3 1041.1,756.9" stroke="#0db14b" stroke-width="2.8" fill="none" stroke-dasharray="18.5 6.8"/>
<path d="M899.4,600V758.4H1119.7" stroke="#000" stroke-width="3.2" fill="none" stroke-linejoin="miter"/>
<path d="M899.4,582.3L904.6,600.8H894.1999999999999Z" fill="#000"/>
<path d="M1133.7,758.4L1117.3,753.1999999999999V763.6Z" fill="#000"/>
<path d="M1003,617.1H1058" stroke="#a24446" stroke-width="1.4"/>
<path d="M1003,633.7H1058" stroke="#2f5a98" stroke-width="1.6" stroke-dasharray="10.6 4.6 2 4.6"/>
<path d="M1003,649.4H1058" stroke="#2fc062" stroke-width="2.4" stroke-dasharray="11.1 4.8"/>
<defs><filter id="bl" x="-5%" y="-50%" width="110%" height="220%"><feGaussianBlur stdDeviation="0.65"/></filter><linearGradient id="fg" x1="0" x2="1" y1="0" y2="0"><stop offset="0" stop-color="#2b2b2f"/><stop offset="0.62" stop-color="#2f2f33"/><stop offset="0.72" stop-color="#47474b"/><stop offset="1" stop-color="#444448"/></linearGradient></defs>
<g filter="url(#bl)"><path d="M994,-3L1000.8,0.1L1012.6,1.2L1025.8,2.0L1039,2.8L1052,3.5L1060,4.1L1069.2,5.5L1077,6.4L1080,6.0L1082.4,4.8L1085,0.2L1087,-3Z" fill="url(#fg)"/></g>
</svg>
</body></html>
